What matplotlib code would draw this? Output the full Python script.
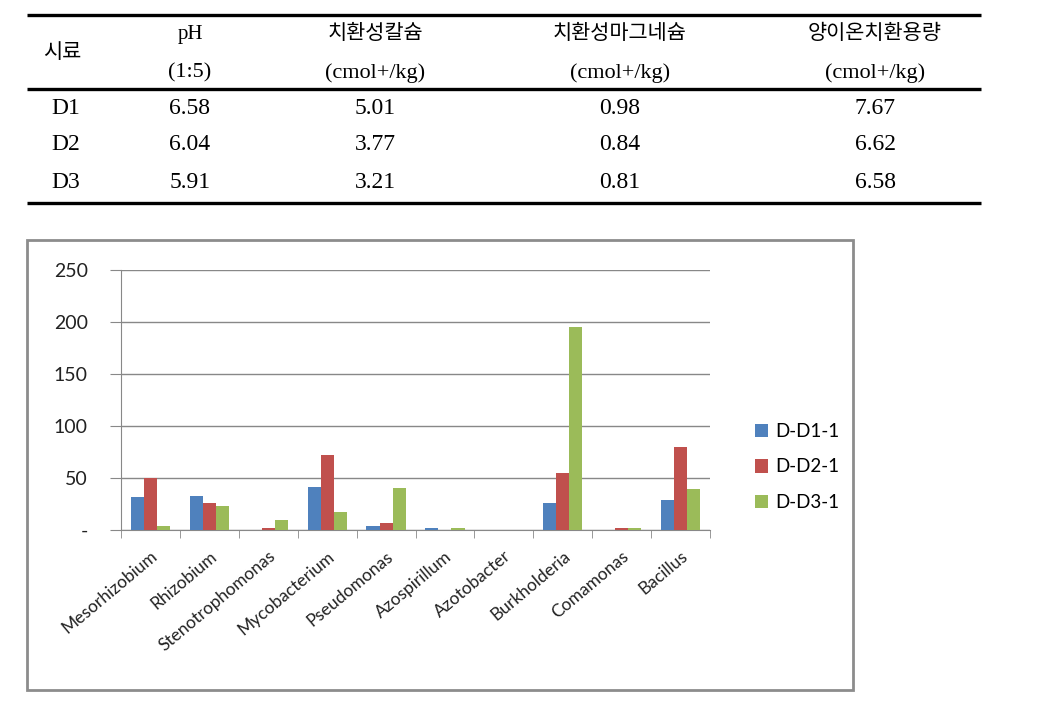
import matplotlib
matplotlib.use("Agg")
import matplotlib.pyplot as plt
from matplotlib.patches import Rectangle
import numpy as np

# table data
samples = ["D1", "D2", "D3"]
headTop = ["pH", "치환성칼슘", "치환성마그네슘", "양이온치환용량"]
headBottom = ["(1:5)", "(cmol+/kg)", "(cmol+/kg)", "(cmol+/kg)"]
tableVals = [["6.58", "5.01", "0.98", "7.67"],
			 ["6.04", "3.77", "0.84", "6.62"],
			 ["5.91", "3.21", "0.81", "6.58"]]

# chart data
genera = ["Mesorhizobium", "Rhizobium", "Stenotrophomonas", "Mycobacterium",
		  "Pseudomonas", "Azospirillum", "Azotobacter", "Burkholderia",
		  "Comamonas", "Bacillus"]
seriesNames = ["D-D1-1", "D-D2-1", "D-D3-1"]
d1 = [31.5, 33, 0, 41.5, 3.5, 2, 0, 26, 0, 28.5]
d2 = [50, 25.5, 2, 72.5, 6.5, 0, 0, 55, 1.5, 80]
d3 = [3.5, 23, 9.5, 17, 40.5, 1.5, 0, 195, 1.5, 39]
colors = ["#4F81BD", "#C0504D", "#9BBB59"]

W, H = 1061, 719
fig = plt.figure(figsize=(W / 100, H / 100), dpi=100)

# table drawn in pixel coordinates
tab = fig.add_axes([0, 0, 1, 1])
tab.set_xlim(0, W)
tab.set_ylim(H, 0)
tab.axis("off")

fam = ["Liberation Serif", "Noto Sans CJK KR"]
for yLine in [15, 89, 203]:
	tab.plot([27, 981], [yLine, yLine], color="black", lw=2.4, solid_capstyle="butt")

colX = [190, 375, 620, 875]
tab.text(62, 53, "시료", ha="center", va="center", fontsize=15, family=fam)
for cx, t1, t2 in zip(colX, headTop, headBottom):
	tab.text(cx, 34, t1, ha="center", va="center", fontsize=15, family=fam)
	tab.text(cx, 73, t2, ha="center", va="center", fontsize=16, family=fam)

rowY = [108, 145, 183]
for ry, s, vals in zip(rowY, samples, tableVals):
	tab.text(66, ry, s, ha="center", va="center", fontsize=17, family=fam)
	for cx, v in zip(colX, vals):
		tab.text(cx, ry, v, ha="center", va="center", fontsize=17, family=fam)

# chart frame
tab.add_patch(Rectangle((27, 240), 826, 450, fill=False, edgecolor="#8c8c8c", lw=2))

chartFont = ["Lato", "DejaVu Sans"]
ax = fig.add_axes([121 / W, (H - 530) / H, (710 - 121) / W, (530 - 270) / H])
x = np.arange(len(genera))
bw = 0.222
for i, (vals, name) in enumerate(zip([d1, d2, d3], seriesNames)):
	ax.bar(x + (i - 1) * bw, vals, bw, color=colors[i], label=name, zorder=3)

ax.set_xlim(-0.5, len(genera) - 0.5)
ax.set_ylim(0, 250)
ax.set_yticks([0, 50, 100, 150, 200, 250])
ax.set_yticklabels(["-", "50", "100", "150", "200", "250"], family=chartFont, fontsize=14)
ax.yaxis.grid(True, color="#888888", lw=1, zorder=0)
ax.tick_params(axis="y", length=8, color="#888888", pad=16, labelcolor="#222222")

ax.set_xticks(np.arange(len(genera) + 1) - 0.5, minor=True)
ax.set_xticks(x)
ax.set_xticklabels(genera, rotation=40, ha="right", rotation_mode="anchor", fontsize=12.5,
				   color="#222222", family=chartFont)
ax.tick_params(axis="x", which="major", length=0, pad=13)
ax.tick_params(axis="x", which="minor", length=6, color="#888888", direction="out")

for side in ["top", "right"]:
	ax.spines[side].set_visible(False)
ax.spines["left"].set_color("#888888")
ax.spines["bottom"].set_color("#888888")

fig.legend(loc="center left", bbox_to_anchor=(738 / W, (H - 467) / H), frameon=False,
		   prop={"family": chartFont, "size": 13.5}, handlelength=0.7, handleheight=0.7,
		   handletextpad=0.4, labelspacing=1.0)

fig.savefig("out.png", dpi=100)
